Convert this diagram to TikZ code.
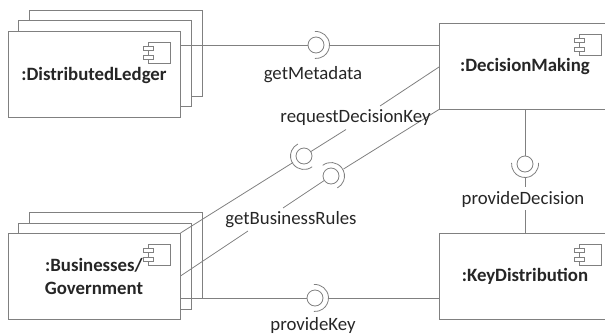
\documentclass[tikz,border=0pt]{standalone}
\usepackage{fontspec}
\setmainfont{Carlito}
\definecolor{ln}{gray}{0.5}
\definecolor{tx}{gray}{0.15}
\tikzset{
  x=1pt,y=-1pt,
  edge/.style={draw=ln,line width=0.8pt},
  box/.style={draw=ln,line width=0.8pt,fill=white,rectangle,inner sep=0pt,outer sep=0pt,minimum width=172.5pt,minimum height=86pt},
  bigbox/.style={draw=ln,line width=0.8pt,fill=white,rectangle,inner sep=0pt,outer sep=0pt,minimum width=172pt,minimum height=86pt},
  ball/.style={draw=ln,line width=0.8pt,circle,inner sep=0pt,outer sep=0pt,minimum size=16pt},
  title/.style={font=\fontsize{18.8}{23}\selectfont\bfseries,text=tx,align=center,inner sep=0pt},
  lab/.style={font=\fontsize{18.8}{22}\selectfont,text=tx,inner sep=0pt},
  iconline/.style={draw=ln,line width=0.6pt}
}
\newcommand{\compicon}[2]{%
  \draw[iconline] (#1,#2) rectangle ++(21.5,21.5);
  \draw[iconline,fill=white] (#1-5,#2+4.5) rectangle ++(10,4);
  \draw[iconline,fill=white] (#1-5,#2+13) rectangle ++(10,4);}
\newcommand{\socket}[2]{% ball name, direction (clockwise on screen), half opening
  \draw[edge] ($(#1)+(#2-95:13.5)$) arc (#2-95:#2+95:13.5);}
\usetikzlibrary{calc}
\begin{document}
\begin{tikzpicture}
\useasboundingbox (0,0) rectangle (605,335);
% stacked boxes
\node[box] (dlc) at (115.75,53) {};
\node[box] (dlb) at (104.75,63.5) {};
\node[box] (dl) at (94.25,74) {};
\node[box] (bgc) at (115.75,255) {};
\node[box] (bgb) at (104.75,266) {};
\node[box] (bg) at (94.25,276) {};
\node[bigbox] (dm) at (525,66.5) {};
\node[bigbox] (kd) at (525,276) {};
\compicon{148.5}{42}
\compicon{148.5}{244}
\compicon{579.5}{34}
\compicon{579.5}{244}
% titles
\node[title] (tdl) at (94,75) {:DistributedLedger};
\node[title] (tbg) at (94,276.5) {:Businesses/\\Government};
\node[title] (tdm) at (525,66) {:DecisionMaking};
\node[title] (tkd) at (525,276.5) {:KeyDistribution};
% interface balls
\node[ball] (meta) at (316,45) {};
\node[ball] (pkey) at (315,298) {};
\node[ball] (req) at (304,156) {};
\node[ball] (rules) at (331,176) {};
\node[ball] (pdec) at (525,164) {};
\socket{meta}{0}
\socket{pkey}{0}
\socket{req}{148}
\socket{rules}{-33}
\socket{pdec}{90}
% free ends of the connector pieces
\coordinate (metaS) at (329.5,45);
\coordinate (pkeyS) at (328.5,298);
\coordinate (dmW) at (439,45);
\coordinate (kdW) at (439,298);
\coordinate (dlE) at (180.5,45);
\coordinate (bgE) at (180.5,298);
\coordinate (reqS) at (293,162.5);
\coordinate (reqA) at (180.5,233);
\coordinate (reqB) at (346,129.5);
\coordinate (reqC) at (380,106);
\coordinate (reqD) at (439,67);
\coordinate (rulA) at (180.5,276);
\coordinate (rulB) at (248,231);
\coordinate (rulC) at (283,208);
\coordinate (rulD) at (343.5,169);
\coordinate (rulE) at (439,109.5);
\coordinate (decA) at (525,177.5);
\coordinate (decB) at (525,187);
\coordinate (decC) at (525,210);
\draw[edge] (dlE) -- (meta);
\draw[edge] (metaS) -- (dmW);
\draw[edge] (bgE) -- (pkey);
\draw[edge] (pkeyS) -- (kdW);
\draw[edge] (reqA) -- (reqS);
\draw[edge] (req) ++(-33:8) -- (reqB);
\draw[edge] (reqC) -- (reqD);
\draw[edge] (rulA) -- (rulB);
\draw[edge] (rulC) -- (rules);
\draw[edge] (rulD) -- (rulE);
\draw[edge] (dm.south) -- (pdec);
\draw[edge] (decA) -- (decB);
\draw[edge] (decC) -- (kd.north);
% labels
\node[lab] (lmeta) at (313,75) {getMetadata};
\node[lab] (lreq) at (355.5,118) {requestDecisionKey};
\node[lab] (lrul) at (291,220) {getBusinessRules};
\node[lab] (ldec) at (523,199) {provideDecision};
\node[lab] (lkey) at (313,325) {provideKey};
\end{tikzpicture}
\end{document}
